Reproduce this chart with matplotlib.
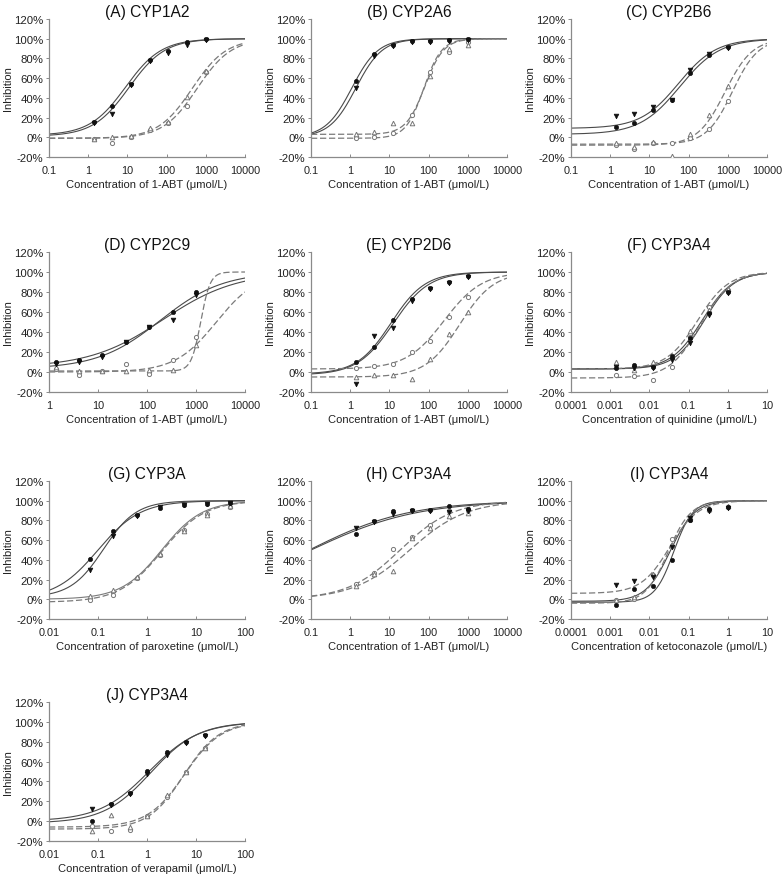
import numpy as np
import matplotlib
matplotlib.use("Agg")
import matplotlib.pyplot as plt
from matplotlib.ticker import FixedLocator, FixedFormatter, NullLocator

plt.rcParams['font.family'] = ['Liberation Sans', 'DejaVu Sans']

# ---------------- data ----------------
titles = ["(A) CYP1A2", "(B) CYP2A6", "(C) CYP2B6", "(D) CYP2C9", "(E) CYP2D6",
          "(F) CYP3A4", "(G) CYP3A", "(H) CYP3A4", "(I) CYP3A4", "(J) CYP3A4"]
xlabels = ["Concentration of 1-ABT (μmol/L)"] * 5 + [
    "Concentration of quinidine (μmol/L)",
    "Concentration of paroxetine (μmol/L)",
    "Concentration of 1-ABT (μmol/L)",
    "Concentration of ketoconazole (μmol/L)",
    "Concentration of verapamil (μmol/L)"]
xlims = [(0.1, 10000), (0.1, 10000), (0.1, 10000), (1, 10000), (0.1, 10000),
         (0.0001, 10), (0.01, 100), (0.1, 10000), (0.0001, 10), (0.01, 100)]
xtick_labels = {
    (0.1, 10000): ["0.1", "1", "10", "100", "1000", "10000"],
    (1, 10000): ["1", "10", "100", "1000", "10000"],
    (0.0001, 10): ["0.0001", "0.001", "0.01", "0.1", "1", "10"],
    (0.01, 100): ["0.01", "0.1", "1", "10", "100"],
}
ytick_values = [-20, 0, 20, 40, 60, 80, 100, 120]

conc_abt = [1.37, 4.1, 12.3, 37, 111, 333, 1000]
conc_qui = [0.00137, 0.0041, 0.0123, 0.037, 0.111, 0.333, 1.0]
conc_par = [0.0686, 0.206, 0.617, 1.85, 5.56, 16.7, 50]
conc_ket = [0.00137, 0.0041, 0.0123, 0.037, 0.111, 0.333, 1.0]
conc_ver = [0.076, 0.186, 0.44, 1.02, 2.6, 6.2, 15.5]

# filled circle / filled triangle / open circle / open triangle (% inhibition)
A_fc = [16, 32, 54, 78, 88, 97, 100]
A_ft = [14, 24, 53, 77, 86, 94, 99]
A_oc = [-2, -6, 0, 7, 14, 32, 66]
A_ot = [-2, 0, 1, 9, 16, 41, 67]

B_fc = [57, 84, 94, 98, 98, 99, 100]
B_ft = [50, 82, 93, 97, 97, 98, 99]
B_oc = [-1, 0, 4, 23, 66, 87, 97]
B_ot = [3, 5, 15, 15, 62, 90, 94]

C_fc = [10, 14, 28, 38, 65, 83, 92]
C_ft = [22, 24, 31, 38, 68, 84, 91]
C_oc = [-8, -12, -6, -6, -1, 8, 37]
C_ot = [-6, -10, -5, -19, 3, 23, 52]

D_fc = [10, 12, 17, 30, 45, 60, 80]
D_ft = [8, 10, 15, 30, 45, 52, 77]
D_oc = [3, -3, 1, 8, -2, 12, 35]
D_ot = [5, 1, 1, 1, 2, 2, 27]

E_fc = [10, 25, 52, 73, 84, 90, 96]
E_ft = [-12, 36, 44, 71, 83, 89, 95]
E_oc = [4, 6, 8, 20, 31, 55, 75]
E_ot = [-5, -3, -3, -7, 13, 38, 60]

F_fc = [4, 7, 5, 16, 34, 59, 80]
F_ft = [5, 4, 4, 12, 29, 57, 79]
F_oc = [-3, -4, -8, 5, 35, 65, 82]
F_ot = [10, 2, 10, 15, 41, 62, 83]

G_fc = [41, 69, 86, 93, 96, 97, 98]
G_ft = [30, 64, 84, 94, 96, 97, 98]
G_oc = [-1, 4, 22, 45, 70, 87, 94]
G_ot = [3, 9, 23, 46, 69, 86, 95]

H_fc = [66, 79, 90, 91, 91, 95, 92]
H_ft = [72, 78, 87, 90, 90, 89, 90]
H_oc = [15, 27, 51, 63, 75, 90, 91]
H_ot = [13, 26, 29, 62, 72, 85, 88]

I_fc = [-6, 10, 13, 40, 80, 92, 94]
I_ft = [14, 19, 23, 53, 82, 90, 93]
I_oc = [-1, 0, 25, 61, 80, 91, 94]
I_ot = [-1, 2, 26, 55, 83, 92, 95]

J_fc = [0, 17, 28, 51, 70, 80, 87]
J_ft = [12, 16, 27, 47, 67, 79, 86]
J_oc = [-5, -10, -9, 5, 24, 50, 74]
J_ot = [-10, 6, -6, 5, 26, 50, 74]

# fitted sigmoid curves: (bottom, top, IC50, Hill) for fc, ft, oc, ot
A_fit = [(2, 100, 9.0, 0.95), (1, 100, 11.0, 0.95), (-1, 100, 600, 1.0), (-1, 100, 450, 1.0)]
B_fit = [(0, 100, 1.1, 1.3), (0, 100, 1.4, 1.3), (-1, 100, 75, 1.9), (3, 100, 80, 1.8)]
C_fit = [(3, 100, 60, 0.85), (9, 100, 55, 0.9), (-7, 100, 1314, 1.32), (-8, 100, 850, 1.25)]
D_fit = [(4.5, 100, 210, 0.58), (3, 100, 185, 0.68), (0, 100, 2600, 1.03), (1, 100, 1250, 4.5)]
E_fit = [(-2, 100, 11, 1.0), (-3, 100, 12.5, 0.95), (3, 100, 250, 0.9), (-5, 100, 620, 1.0)]
F_fit = [(3, 100, 0.22, 1.1), (3, 100, 0.25, 1.15), (-6, 100, 0.2, 1.1), (3, 100, 0.17, 1.1)]
G_fit = [(0, 100, 0.1, 1.0), (2, 100, 0.13, 1.3), (-3, 100, 2.0, 1.0), (0, 100, 2.0, 1.05)]
H_fit = [(0, 100, 0.09, 0.34), (0, 100, 0.1, 0.32), (0, 100, 18.7, 0.65), (0, 100, 33, 0.6)]
I_fit = [(-3, 100, 0.042, 1.8), (-2, 100, 0.034, 1.4), (6, 100, 0.033, 1.2), (-4, 100, 0.03, 1.5)]
J_fit = [(0, 100, 1.1, 0.85), (-2, 100, 1.2, 0.9), (-6, 100, 5.8, 1.15), (-8, 100, 5.6, 1.2)]

panels = [
    (conc_abt, A_fc, A_ft, A_oc, A_ot, A_fit),
    (conc_abt, B_fc, B_ft, B_oc, B_ot, B_fit),
    (conc_abt, C_fc, C_ft, C_oc, C_ot, C_fit),
    (conc_abt, D_fc, D_ft, D_oc, D_ot, D_fit),
    (conc_abt, E_fc, E_ft, E_oc, E_ot, E_fit),
    (conc_qui, F_fc, F_ft, F_oc, F_ot, F_fit),
    (conc_par, G_fc, G_ft, G_oc, G_ot, G_fit),
    (conc_abt, H_fc, H_ft, H_oc, H_ot, H_fit),
    (conc_ket, I_fc, I_ft, I_oc, I_ot, I_fit),
    (conc_ver, J_fc, J_ft, J_oc, J_ot, J_fit),
]
# panel G: open-triangle curve is drawn solid
solid_open = {6: [False, True]}

# ---------------- figure ----------------
W, H = 784, 878
fig = plt.figure(figsize=(W / 100, H / 100), dpi=100)
col_left = [49, 311, 571]
ax_w = 196
row_top = [20, 253, 482, 703]
row_h = [138, 140, 138, 139]

def hill(x, b, t, ic, h):
    x = np.asarray(x, dtype=float)
    return b + (t - b) / (1.0 + (ic / x) ** h)

dark = "#4a4a4a"
grey = "#7a7a7a"

for i, (conc, fc, ft, oc, ot, fit) in enumerate(panels):
    r, c = divmod(i, 3)
    l = col_left[c] / W
    b = 1 - (row_top[r] + row_h[r]) / H
    ax = fig.add_axes([l, b, ax_w / W, row_h[r] / H])
    xl = xlims[i]
    xs = np.logspace(np.log10(xl[0]), np.log10(xl[1]), 400)

    for k, p in enumerate(fit):
        ys = hill(xs, *p)
        if k < 2:
            ax.plot(xs, ys, color=dark, lw=0.8, zorder=2)
        elif i in solid_open and solid_open[i][k - 2]:
            ax.plot(xs, ys, color=grey, lw=0.8, zorder=2)
        else:
            ax.plot(xs, ys, color=grey, lw=0.9, dashes=(5, 2.2), zorder=2)

    ms = 3.0
    ax.plot(conc, fc, 'o', ms=ms, mfc='#111111', mec='#111111', mew=0.5, zorder=4)
    ax.plot(conc, ft, 'v', ms=ms + 0.4, mfc='#111111', mec='#111111', mew=0.5, zorder=4)
    ax.plot(conc, oc, 'o', ms=ms, mfc='white', mec='#777777', mew=0.7, zorder=3)
    ax.plot(conc, ot, '^', ms=ms + 0.3, mfc='white', mec='#777777', mew=0.7, zorder=3)

    ax.set_xscale('log')
    ax.set_xlim(*xl)
    ax.set_ylim(-20, 120)
    labs = xtick_labels[xl]
    ticks = [xl[0] * 10 ** j for j in range(len(labs))]
    ax.xaxis.set_major_locator(FixedLocator(ticks))
    ax.xaxis.set_major_formatter(FixedFormatter(labs))
    ax.xaxis.set_minor_locator(NullLocator())
    ax.set_yticks(ytick_values)
    ax.set_yticklabels([f"{v}%" for v in ytick_values])

    for s in ['top', 'right']:
        ax.spines[s].set_visible(False)
    for s in ['left', 'bottom']:
        ax.spines[s].set_color('#8a8a8a')
        ax.spines[s].set_linewidth(0.9)
    ax.tick_params(axis='x', direction='in', length=2.5, width=0.7, colors='#8a8a8a',
                   labelcolor='#222222', labelsize=7.8, pad=6)
    ax.tick_params(axis='y', direction='out', length=2.5, width=0.7, colors='#8a8a8a',
                   labelcolor='#222222', labelsize=8.2, pad=1.5)
    ax.set_title(titles[i], fontsize=11.2, color='#111111', pad=2)
    ax.set_xlabel(xlabels[i], fontsize=8, color='#222222', labelpad=3)
    ax.set_ylabel("Inhibition", fontsize=8, color='#222222', labelpad=1)
    ax.patch.set_alpha(0)

fig.savefig("out.png", dpi=100, facecolor='white')
